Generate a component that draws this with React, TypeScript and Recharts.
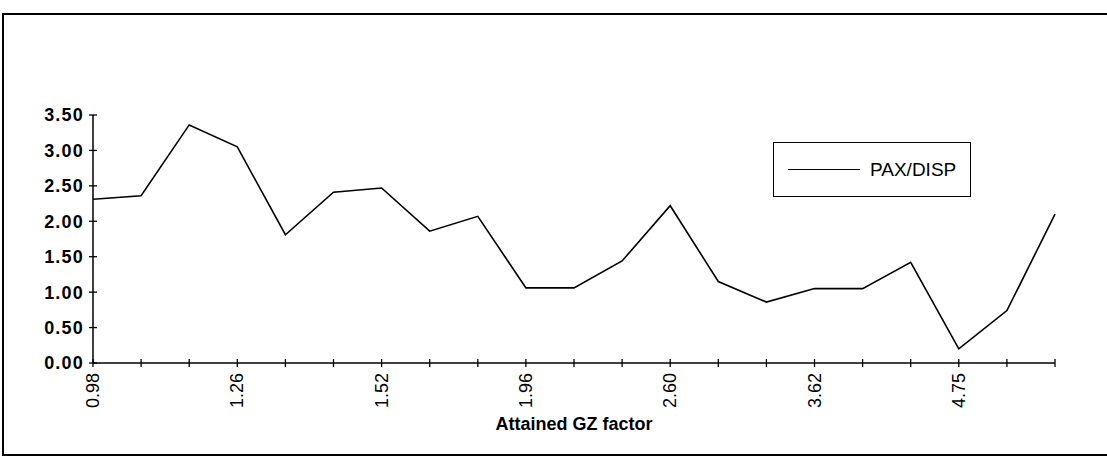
import React from 'react';
import { LineChart, Line, XAxis, YAxis } from 'recharts';

// tick labels under every third point, the others are unlabelled in the source
const gzFactors = ['0.98', '', '', '1.26', '', '', '1.52', '', '', '1.96', '', '', '2.60', '', '', '3.62', '', '', '4.75', '', ''];
const paxDisp = [2.31, 2.36, 3.36, 3.05, 1.81, 2.41, 2.47, 1.86, 2.07, 1.06, 1.06, 1.44, 2.22, 1.15, 0.86, 1.05, 1.05, 1.42, 0.2, 0.74, 2.1];
const yTicks = [0, 0.5, 1, 1.5, 2, 2.5, 3, 3.5];
const seriesName = 'PAX/DISP';

const data = paxDisp.map((v, i) => ({ idx: i, value: v }));

const FONT = '"Liberation Sans", Arial, sans-serif';

const XTick = (props: any) => {
  const { x, y, payload } = props;
  const label = gzFactors[payload.value];
  return (
    <g>
      <line x1={x} y1={y - 4} x2={x} y2={y + 4} stroke="#000" strokeWidth={1.3} />
      {label && (
        <text
          transform={`translate(${x + 6},${y + 10}) rotate(-90)`}
          textAnchor="end"
          fontFamily={FONT}
          fontSize={18}
          fill="#000"
        >
          {label}
        </text>
      )}
    </g>
  );
};

const YTick = (props: any) => {
  const { x, y, payload } = props;
  return (
    <g>
      <line x1={x - 4} y1={y} x2={x + 4} y2={y} stroke="#000" strokeWidth={1.3} />
      <text
        x={x - 9}
        y={y}
        dy="0.36em"
        textAnchor="end"
        fontFamily={FONT}
        fontWeight="bold"
        fontSize={18}
        letterSpacing={1.2}
        fill="#000"
      >
        {payload.value.toFixed(2)}
      </text>
    </g>
  );
};

export default function App() {
  return (
    <div style={{ position: 'absolute', left: 0, top: 0, width: 1107, height: 463, background: '#fff', overflow: 'hidden' }}>
      <div style={{
        position: 'absolute',
        left: 2,
        top: 13,
        width: 1110,
        height: 439,
        border: '2px solid #000',
        borderRight: 'none',
      }} />
      <div style={{ position: 'absolute', left: 0, top: 0 }}>
        <LineChart width={1107} height={463} data={data} margin={{ top: 115, right: 52, bottom: 0, left: 0 }}>
          <XAxis
            dataKey="idx"
            type="category"
            interval={0}
            tick={<XTick />}
            tickLine={false}
            tickSize={0}
            tickMargin={0}
            height={100}
            axisLine={{ stroke: '#000', strokeWidth: 1.5 }}
            label={{ value: 'Attained GZ factor', position: 'insideBottom', offset: 33, fill: '#000', fontSize: 18, fontWeight: 'bold', fontFamily: FONT, dx: 0 }}
          />
          <YAxis
            domain={[0, 3.5]}
            ticks={yTicks}
            interval={0}
            width={93}
            tick={<YTick />}
            tickLine={false}
            tickSize={0}
            tickMargin={0}
            axisLine={{ stroke: '#000', strokeWidth: 1.5 }}
          />
          <Line
            dataKey="value"
            name={seriesName}
            stroke="#000"
            strokeWidth={1.6}
            dot={false}
            isAnimationActive={false}
          />
        </LineChart>
      </div>
      <div style={{
        position: 'absolute',
        left: 773,
        top: 142,
        width: 196,
        height: 53,
        border: '1.5px solid #000',
        display: 'flex',
        alignItems: 'center',
        background: '#fff',
        fontFamily: FONT,
      }}>
        <div style={{ width: 72, height: 0, borderTop: '1.5px solid #000', marginLeft: 14, marginRight: 10 }} />
        <span style={{ fontSize: 19, color: '#000' }}>{seriesName}</span>
      </div>
    </div>
  );
}
